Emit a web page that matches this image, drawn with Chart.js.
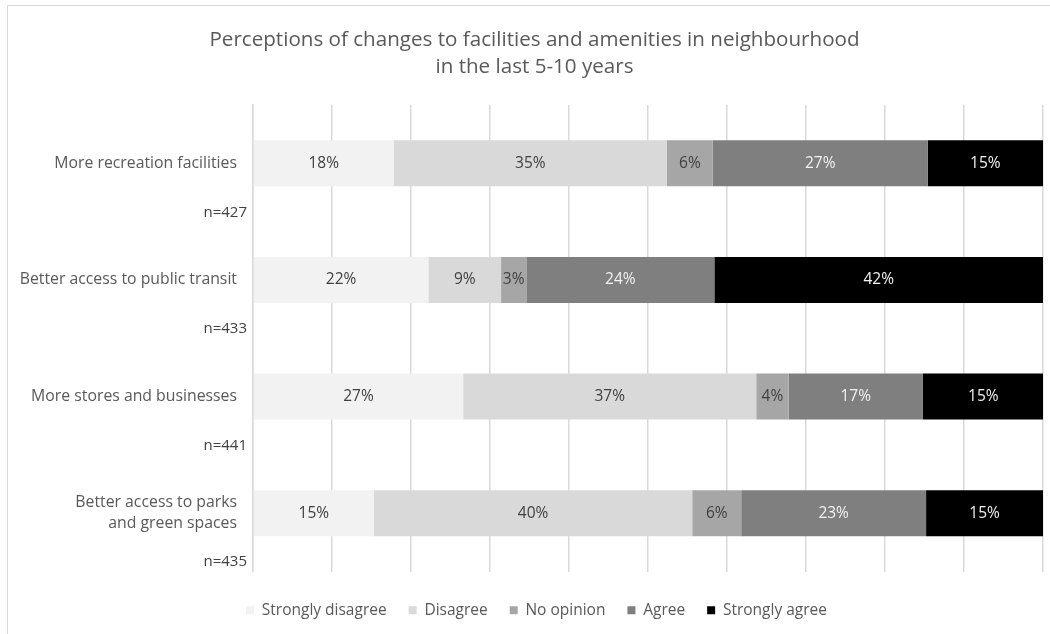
<!DOCTYPE html>
<html>
<head>
<meta charset="utf-8">
<script src="https://cdn.jsdelivr.net/npm/chart.js@4.4.1/dist/chart.umd.min.js"></script>
<style>
  html, body { margin: 0; padding: 0; background: #fff; overflow: hidden; }
  #frame { position: absolute; left: 7px; top: 5px; width: 1080px; height: 640px; border: 1px solid #d9d9d9; box-sizing: border-box; }
  #wrap { position: absolute; left: 0; top: 0; width: 1050px; height: 634px; }
</style>
</head>
<body>
<div id="frame"></div>
<div id="wrap"><canvas id="chart" width="1050" height="634"></canvas></div>
<script>
// ─── Data (percent of respondents) ───
const categories = [
    'More recreation facilities',
    'Better access to public transit',
    'More stores and businesses',
    ['Better access to parks', 'and green spaces']
];
const sampleSizes = ['n=427', 'n=433', 'n=441', 'n=435'];
const seriesNames = ['Strongly disagree', 'Disagree', 'No opinion', 'Agree', 'Strongly agree'];
const stronglyDisagree = [17.8, 22.2, 26.6, 15.3];
const disagree = [34.6, 9.2, 37.1, 40.3];
const noOpinion = [5.8, 3.2, 4.1, 6.2];
const agree = [27.2, 23.8, 17.0, 23.4];
const stronglyAgree = [14.6, 41.6, 15.3, 14.8];

const seriesColors = ['#f2f2f2', '#d9d9d9', '#a6a6a6', '#7f7f7f', '#000000'];
const labelColors = ['#404040', '#404040', '#404040', '#f2f2f2', '#f2f2f2'];
const FONT = '"Open Sans", sans-serif';

// ─── Percent labels inside bars ───
const barLabels = {
    id: 'barLabels',
    afterDatasetsDraw(chart) {
        const ctx = chart.ctx;
        ctx.save();
        ctx.font = '15.5px ' + FONT;
        ctx.textAlign = 'center';
        ctx.textBaseline = 'middle';
        chart.data.datasets.forEach((ds, di) => {
            const meta = chart.getDatasetMeta(di);
            meta.data.forEach((bar, i) => {
                const x = (bar.x + bar.base) / 2;
                ctx.fillStyle = labelColors[di];
                ctx.fillText(Math.round(ds.data[i]) + '%', x, bar.y);
            });
        });
        ctx.restore();
    }
};

// ─── n= labels under each category name ───
const sampleLabels = {
    id: 'sampleLabels',
    afterDraw(chart) {
        const ctx = chart.ctx;
        const y = chart.scales.y;
        ctx.save();
        ctx.font = '15px ' + FONT;
        ctx.textAlign = 'right';
        ctx.textBaseline = 'middle';
        ctx.fillStyle = '#404040';
        sampleSizes.forEach((s, i) => {
            ctx.fillText(s, 247, y.getPixelForTick(i) + 49);
        });
        ctx.restore();
    }
};

// the original frame runs past the right edge, so title and legend sit a bit right of centre
const shiftBlocks = {
    id: 'shiftBlocks',
    afterLayout(chart) {
        if (chart.titleBlock) chart.titleBlock.left += 26;
        if (chart.legend) chart.legend.left += 30;
    }
};

const allSeries = [stronglyDisagree, disagree, noOpinion, agree, stronglyAgree];

new Chart(document.getElementById('chart'), {
    type: 'bar',
    data: {
        labels: categories,
        datasets: allSeries.map((d, i) => ({
            label: seriesNames[i],
            data: d,
            backgroundColor: seriesColors[i],
            borderWidth: 0,
            categoryPercentage: 1,
            barPercentage: 0.395
        }))
    },
    options: {
        indexAxis: 'y',
        responsive: false,
        animation: false,
        layout: { padding: { left: 0, right: 7, top: 0, bottom: 6 } },
        plugins: {
            title: {
                display: true,
                text: ['Perceptions of changes to facilities and amenities in neighbourhood', 'in the last 5-10 years'],
                color: '#595959',
                font: { family: FONT, size: 20.6, weight: 'normal', lineHeight: 1.31 },
                padding: { top: 27, bottom: 24 }
            },
            legend: {
                position: 'bottom',
                labels: {
                    color: '#595959',
                    font: { family: FONT, size: 15.5 },
                    boxWidth: 8,
                    boxHeight: 8,
                    padding: 22
                }
            },
            tooltip: { enabled: false }
        },
        scales: {
            x: {
                stacked: true,
                min: 0,
                max: 100,
                ticks: { display: false, stepSize: 10 },
                grid: { color: '#d9d9d9', drawTicks: false, lineWidth: 1.5 },
                border: { display: false },
                afterFit(scale) { scale.height = 9; }
            },
            y: {
                stacked: true,
                ticks: { color: '#595959', font: { family: FONT, size: 15.8, lineHeight: 1.33 }, padding: 16 },
                grid: { display: false, drawTicks: false },
                border: { color: '#d9d9d9', width: 1.5 },
                afterFit(scale) { scale.width = 253; }
            }
        }
    },
    plugins: [barLabels, sampleLabels, shiftBlocks]
});
</script>
</body>
</html>
